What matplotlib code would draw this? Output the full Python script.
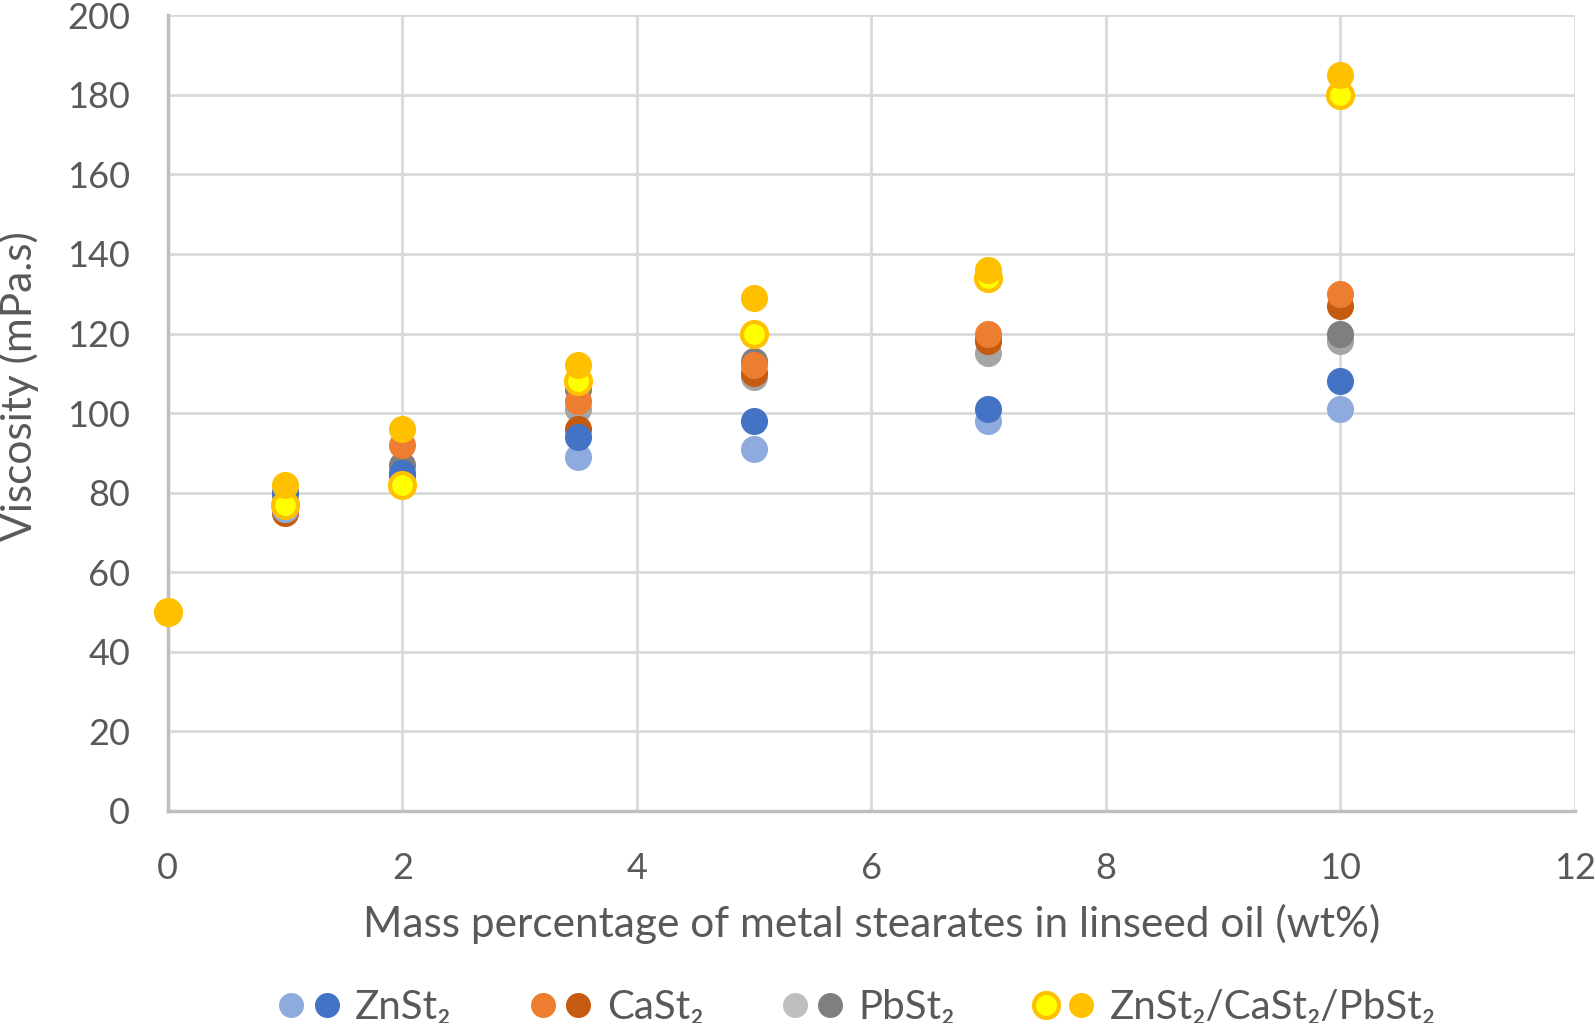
import matplotlib.pyplot as plt
from matplotlib.lines import Line2D
from matplotlib.legend_handler import HandlerTuple

plt.rcParams['font.family'] = ['Lato', 'DejaVu Sans']

# mass percentage (wt%)
x = [0, 1, 2, 3.5, 5, 7, 10]

# viscosity (mPa.s), two series per stearate
zn_a = [50, 76, 83, 89, 91, 98, 101]
zn_b = [50, 80, 85, 94, 98, 101, 108]
ca_a = [50, 76, 92, 103, 112, 120, 130]
ca_b = [50, 75, 84, 96, 110, 118, 127]
pb_a = [50, 78, 84, 101, 109, 115, 118]
pb_b = [50, 80, 87, 106, 113, 119, 120]
mix_a = [50, 77, 82, 108, 120, 134, 180]
mix_b = [50, 82, 96, 112, 129, 136, 185]

labels = ['ZnSt₂', 'CaSt₂', 'PbSt₂', 'ZnSt₂/CaSt₂/PbSt₂']

txt = '#595959'
grid = '#D9D9D9'
S = 380

fig = plt.figure(figsize=(15.95, 10.23), dpi=100)
ax = fig.add_axes([0.1052, 0.2074, 0.882, 0.7776])

# drawing order picked to match the overlaps
kw = dict(s=S, linewidths=0, zorder=3, clip_on=False)
ax.scatter(x, pb_a, color='#A5A5A5', **kw)
ax.scatter(x, pb_b, color='#7F7F7F', **kw)
ax.scatter(x, ca_b, color='#C55A11', **kw)
ax.scatter(x, ca_a, color='#ED7D31', **kw)
ax.scatter(x, zn_a, color='#8FAADC', **kw)
ax.scatter(x, zn_b, color='#4472C4', **kw)
ax.scatter(x, mix_a, s=S * 0.85, color='#FFFF00', edgecolors='#FFC000', linewidths=3,
           zorder=3, clip_on=False)
ax.scatter(x, mix_b, color='#FFC000', **kw)

ax.set_xlim(0, 12)
ax.set_ylim(0, 200)
ax.set_xticks(range(0, 13, 2))
ax.set_yticks(range(0, 201, 20))
ax.grid(True, color=grid, linewidth=2)
ax.set_axisbelow(True)
for s in ['top', 'right']:
    ax.spines[s].set_visible(False)
for s in ['left', 'bottom']:
    ax.spines[s].set_color('#BFBFBF')
    ax.spines[s].set_linewidth(2.5)
ax.tick_params(length=0, labelsize=26, labelcolor=txt)
ax.tick_params(axis='x', pad=30)
ax.tick_params(axis='y', pad=27)
ax.set_xlabel('Mass percentage of metal stearates in linseed oil (wt%)', fontsize=30.5, color=txt, labelpad=13)
fig.text(18.5 / 1595, 1 - 386 / 1023, 'Viscosity (mPa.s)', rotation=90, ha='center', va='center',
         fontsize=30.5, color=txt)

def mk(c, ec=None, mew=0):
    return Line2D([], [], ls='none', marker='o', markersize=18, color=c,
                  markeredgecolor=ec or c, markeredgewidth=mew)

handles = [
    (mk('#8FAADC'), mk('#4472C4')),
    (mk('#ED7D31'), mk('#C55A11')),
    (mk('#BFBFBF'), mk('#7F7F7F')),
    (mk('#FFFF00', '#FFC000', 3), mk('#FFC000')),
]
fig.legend(handles, labels, loc='lower center', bbox_to_anchor=(0.537, -0.038), ncol=4,
           frameon=False, fontsize=29, labelcolor=txt,
           handler_map={tuple: HandlerTuple(ndivide=None, pad=0.15)},
           handlelength=1.6, handletextpad=0.35, columnspacing=1.9)

fig.savefig('out.png', dpi=100)
